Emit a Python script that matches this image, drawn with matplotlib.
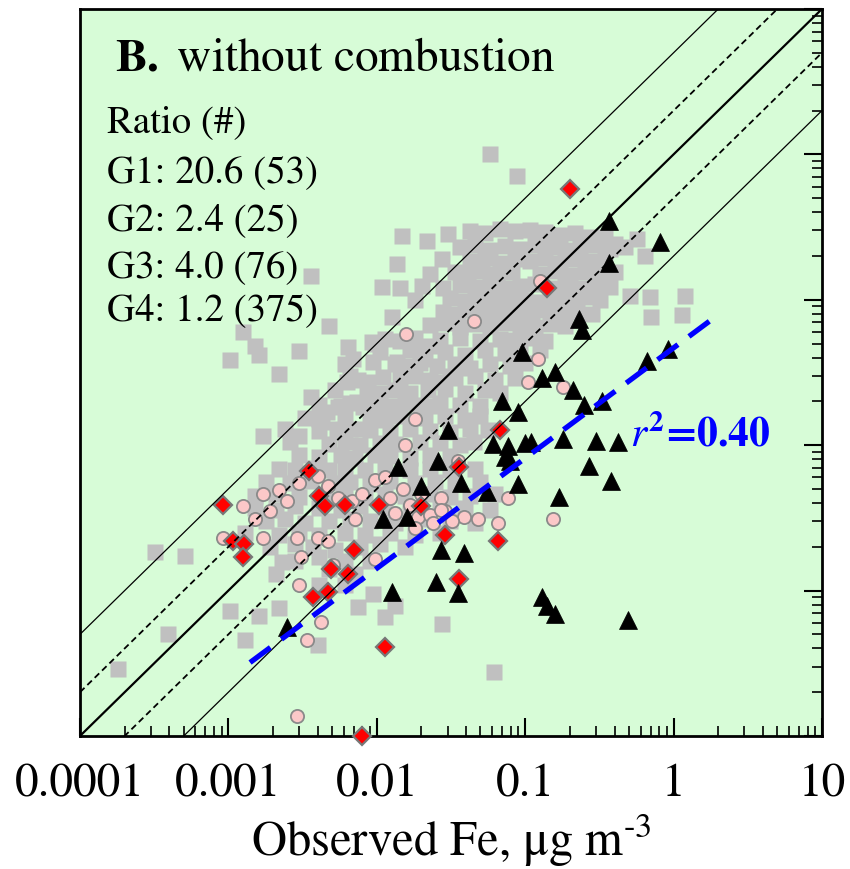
import matplotlib
matplotlib.use("Agg")
from matplotlib import pyplot as plt
from matplotlib.ticker import LogLocator, NullFormatter, FuncFormatter

plt.rcParams['font.family'] = 'STIXGeneral'
plt.rcParams['mathtext.fontset'] = 'stix'

# G1 - black triangles (observed, modelled)
g1_obs = [0.37, 0.81, 0.37, 0.23, 0.24, 0.66, 0.92, 0.095, 0.16, 0.13,
          0.21, 0.25, 0.33, 0.070, 0.089, 0.030, 0.026, 0.061, 0.077, 0.10,
          0.079, 0.18, 0.30, 0.42, 0.27, 0.38, 0.089, 0.037, 0.055, 0.17,
          0.027, 0.039, 0.025, 0.035, 0.13, 0.14, 0.16, 0.49, 0.014, 0.020,
          0.011, 0.016, 0.0025, 0.0126, 0.073, 0.11]
g1_mod = [0.35, 0.25, 0.18, 0.074, 0.062, 0.038, 0.046, 0.044, 0.032, 0.029,
          0.024, 0.019, 0.020, 0.020, 0.017, 0.0127, 0.0078, 0.0102, 0.0099, 0.0104,
          0.0078, 0.011, 0.0107, 0.0105, 0.0072, 0.0057, 0.0054, 0.0055, 0.0048, 0.0044,
          0.0019, 0.0018, 0.00115, 0.00096, 0.00090, 0.00078, 0.00069, 0.00063, 0.0071, 0.0052,
          0.0031, 0.0032, 0.00056, 0.00098, 0.0083, 0.0105]

# G2 - red diamonds
g2_obs = [0.20, 0.14, 0.00092, 0.0035, 0.0041, 0.0045, 0.0061, 0.0104, 0.00107, 0.00127,
          0.00125, 0.0070, 0.0049, 0.0064, 0.0037, 0.0047, 0.0113, 0.0079, 0.020, 0.036,
          0.068, 0.029, 0.066, 0.036]
g2_mod = [0.58, 0.12, 0.0039, 0.0066, 0.0045, 0.0038, 0.0039, 0.0039, 0.0022, 0.0021,
          0.0017, 0.0019, 0.0014, 0.0013, 0.0009, 0.00098, 0.00041, 0.0001, 0.0038, 0.0071,
          0.0127, 0.0024, 0.0022, 0.0012]

# G3 - pink circles
g3_obs = [0.126, 0.045, 0.0157, 0.122, 0.105, 0.18, 0.018, 0.0155, 0.035, 0.0097,
          0.015, 0.020, 0.027, 0.077, 0.0133, 0.019, 0.023, 0.029, 0.039, 0.048,
          0.066, 0.154, 0.018, 0.032, 0.0071, 0.0068, 0.0097, 0.0040, 0.0047, 0.0030,
          0.0025, 0.0022, 0.0017, 0.00125, 0.0015, 0.00092, 0.0017, 0.0029, 0.0040, 0.0047,
          0.0031, 0.0051, 0.0030, 0.0042, 0.0034, 0.0029, 0.027, 0.0167, 0.024, 0.0123,
          0.0079, 0.0055, 0.0019, 0.0114]
g3_mod = [0.135, 0.071, 0.058, 0.039, 0.027, 0.025, 0.0151, 0.0100, 0.0078, 0.0058,
          0.0050, 0.0046, 0.0043, 0.0043, 0.0034, 0.0032, 0.0033, 0.0035, 0.0032, 0.0031,
          0.0029, 0.0031, 0.0027, 0.0030, 0.0031, 0.0041, 0.00165, 0.0061, 0.0052, 0.0055,
          0.0041, 0.0049, 0.0046, 0.0038, 0.0031, 0.0023, 0.0023, 0.0023, 0.0023, 0.0022,
          0.0017, 0.0015, 0.0011, 0.00061, 0.00046, 0.000137, 0.0036, 0.0039, 0.0029, 0.0043,
          0.0046, 0.0043, 0.0035, 0.0060]

# G4 - grey squares
g4_obs = [
    # scattered points
    0.058, 0.088, 0.0036, 0.0048, 0.00125, 0.0015, 0.0016, 0.0030, 0.00103, 0.0022,
    0.0036, 0.0041, 0.0017, 0.0030, 0.00032, 0.00051, 0.00018, 0.00039, 0.00103, 0.0016,
    0.0022, 0.0013, 0.0040, 0.062, 0.0275, 0.0094, 0.0075, 0.0113, 0.0133, 0.0023,
    0.69, 1.19, 0.71, 1.14, 0.51, 0.57, 0.64, 0.47, 0.0137, 0.0108,
    0.0143, 0.0126,
    0.0064, 0.0097, 0.0066, 0.0075, 0.0086, 0.0133, 0.0055, 0.0081, 0.0054, 0.0079,
    0.0093, 0.0069, 0.0094, 0.0137, 0.0205, 0.0228, 0.0063, 0.0087, 0.0110, 0.0057,
    0.0074, 0.0228, 0.0267, 0.0311, 0.0024, 0.0043, 0.0046,
    # upper cluster
    0.0148, 0.0218, 0.0302, 0.0425, 0.0536, 0.0676, 0.0854, 0.108, 0.136, 0.172, 0.217, 0.273, 0.345, 0.403,
    0.0364, 0.0459, 0.0579, 0.0731, 0.0923, 0.116, 0.147, 0.185, 0.234, 0.295, 0.373,
    0.0275, 0.0425, 0.0536, 0.0676, 0.0854, 0.108, 0.136, 0.172, 0.217, 0.273, 0.345,
    0.0228, 0.0337, 0.0412, 0.0512, 0.0646, 0.0815, 0.126, 0.159, 0.200, 0.253, 0.319, 0.403,
    0.0202, 0.0279, 0.0364, 0.0459, 0.0579, 0.0731, 0.0923, 0.116, 0.147, 0.185, 0.234, 0.295, 0.373,
    0.0181, 0.0311, 0.0393, 0.0496, 0.0625, 0.079, 0.0997, 0.126, 0.159, 0.200, 0.253, 0.319,
    0.0279, 0.0352, 0.0438, 0.0553, 0.0698, 0.0881, 0.111, 0.140, 0.177, 0.223, 0.282,
    0.0228, 0.0288, 0.0364, 0.0459, 0.0579, 0.0731, 0.0923, 0.116, 0.147, 0.185,
    # diagonal band
    0.01135, 0.0143, 0.0181, 0.0267, 0.0364, 0.0496, 0.0676, 0.0854, 0.108, 0.136,
    0.0105, 0.0167, 0.0211, 0.0288, 0.0393, 0.0536, 0.0731, 0.0923, 0.126,
    0.0061, 0.0167, 0.0195, 0.0255, 0.0337, 0.0425, 0.0579, 0.079, 0.0997,
    0.0143, 0.0181, 0.0228, 0.0337, 0.0459, 0.0625, 0.0854,
    0.0052, 0.0105, 0.0133, 0.0167, 0.0221, 0.0288, 0.0393, 0.0536, 0.0676,
    0.0041, 0.0066, 0.0097, 0.0123, 0.0155, 0.0195, 0.0267, 0.0364, 0.0496,
    0.0033, 0.0061, 0.009, 0.01135, 0.0143, 0.0211, 0.0288, 0.0393,
    0.0041, 0.0066, 0.009, 0.0123, 0.0167, 0.0228, 0.0311, 0.0425,
    0.0026, 0.0048, 0.0061, 0.0077, 0.0105, 0.0133, 0.0195, 0.0267, 0.0364,
    0.0030, 0.0041, 0.0057, 0.0071, 0.0097, 0.0123, 0.0167, 0.0228, 0.0311,
    0.0022, 0.0028, 0.0038, 0.0048, 0.0061, 0.0083, 0.01135, 0.0167, 0.0228, 0.0311, 0.0459,
    0.0018, 0.0026, 0.0036, 0.0052, 0.0066, 0.009, 0.0123, 0.0181, 0.0247, 0.0337, 0.0496,
    0.0015, 0.0021, 0.0030, 0.0045, 0.0061, 0.0083, 0.01135, 0.0155, 0.0228, 0.0311, 0.0425, 0.0625,
    0.0015, 0.0021, 0.0028, 0.0041, 0.0057, 0.0077, 0.01135, 0.0167, 0.0267, 0.0393, 0.0579,
    0.0018, 0.0024, 0.0033, 0.0048, 0.0066, 0.009, 0.0133, 0.0195, 0.0311, 0.0459,
    0.0013, 0.0022, 0.0030, 0.0041, 0.0061, 0.0083, 0.0123, 0.0181, 0.0267,
    0.0019, 0.0028, 0.0037, 0.0052, 0.0077, 0.0105, 0.0155,
    0.0028, 0.0041, 0.0061, 0.009,
    0.0021, 0.0048, 0.0071,
    0.0041, 0.0061,
    0.050, 0.056, 0.045,
]
g4_mod = [
    1.01, 0.71, 0.146, 0.066, 0.060, 0.048, 0.042, 0.0445, 0.0385, 0.031,
    0.0215, 0.0151, 0.0116, 0.0116, 0.00184, 0.00173, 0.00029, 0.00050, 0.00072, 0.00067,
    0.00076, 0.00046, 0.00042, 0.000275, 0.00059, 0.00095, 0.00077, 0.00066, 0.00078, 0.00157,
    0.104, 0.106, 0.076, 0.079, 0.106, 0.262, 0.200, 0.231, 0.176, 0.122,
    0.121, 0.076,
    0.0473, 0.0497, 0.0299, 0.0281, 0.0225, 0.0361, 0.0183, 0.0183, 0.0129, 0.0129,
    0.0513, 0.0392, 0.0373, 0.0373, 0.0392, 0.0481, 0.0272, 0.0272, 0.0295, 0.0186,
    0.0198, 0.0186, 0.0272, 0.0299, 0.0129, 0.0145, 0.0169,
    0.275, 0.254, 0.284, 0.297, 0.288, 0.307, 0.297, 0.302, 0.293, 0.279, 0.288, 0.270, 0.270, 0.242,
    0.23, 0.24, 0.22, 0.235, 0.225, 0.24, 0.23, 0.22, 0.235, 0.24, 0.225,
    0.19, 0.185, 0.195, 0.18, 0.19, 0.185, 0.195, 0.18, 0.19, 0.185, 0.19,
    0.15, 0.155, 0.148, 0.158, 0.15, 0.155, 0.15, 0.157, 0.148, 0.155, 0.15, 0.155,
    0.125, 0.12, 0.127, 0.122, 0.126, 0.12, 0.125, 0.128, 0.121, 0.125, 0.12, 0.126, 0.122,
    0.10, 0.103, 0.098, 0.102, 0.099, 0.104, 0.10, 0.097, 0.102, 0.10, 0.104, 0.099,
    0.083, 0.08, 0.085, 0.081, 0.084, 0.082, 0.08, 0.085, 0.082, 0.083, 0.08,
    0.067, 0.069, 0.065, 0.068, 0.066, 0.069, 0.067, 0.065, 0.068, 0.066,
    0.054, 0.052, 0.055, 0.053, 0.055, 0.052, 0.054, 0.053, 0.055, 0.052,
    0.044, 0.045, 0.043, 0.044, 0.042, 0.045, 0.043, 0.044, 0.045,
    0.036, 0.035, 0.037, 0.035, 0.036, 0.034, 0.036, 0.035, 0.037,
    0.029, 0.030, 0.028, 0.029, 0.030, 0.028, 0.029,
    0.024, 0.023, 0.024, 0.023, 0.024, 0.0245, 0.023, 0.024, 0.023,
    0.019, 0.0195, 0.019, 0.0185, 0.0195, 0.019, 0.0195, 0.019, 0.0185,
    0.0155, 0.016, 0.0155, 0.015, 0.016, 0.0155, 0.016, 0.015,
    0.0125, 0.013, 0.0127, 0.0123, 0.013, 0.0126, 0.0124, 0.013,
    0.0105, 0.0102, 0.0106, 0.0101, 0.0104, 0.0102, 0.0106, 0.0103, 0.0101,
    0.0085, 0.0083, 0.0086, 0.0082, 0.0085, 0.0084, 0.0082, 0.0086, 0.0084,
    0.0069, 0.0067, 0.0070, 0.0068, 0.0069, 0.0067, 0.0070, 0.0068, 0.0069, 0.0067, 0.0069,
    0.0056, 0.0055, 0.0057, 0.0055, 0.0056, 0.0054, 0.0057, 0.0055, 0.0056, 0.0054, 0.0056,
    0.0045, 0.0046, 0.0044, 0.0046, 0.0045, 0.0044, 0.0046, 0.0045, 0.0046, 0.0044, 0.0045, 0.0046,
    0.0037, 0.0036, 0.0038, 0.0037, 0.0036, 0.0038, 0.0037, 0.0036, 0.0038, 0.0037, 0.0036,
    0.0030, 0.0031, 0.0029, 0.0030, 0.0031, 0.0030, 0.0029, 0.0031, 0.0030, 0.0029,
    0.0025, 0.0024, 0.0025, 0.0024, 0.0025, 0.0024, 0.0025, 0.0024, 0.0025,
    0.0020, 0.0021, 0.0020, 0.0019, 0.0020, 0.0021, 0.0020,
    0.0016, 0.0017, 0.0016, 0.0016,
    0.0013, 0.0014, 0.0013,
    0.0011, 0.0011,
    0.0158, 0.0128, 0.0105,
]

# regression line end points
fit_obs = [0.0014, 2.0]
fit_mod = [0.00032, 0.079]

ratio_labels = ['Ratio (#)', 'G1: 20.6 (53)', 'G2: 2.4 (25)', 'G3: 4.0 (76)', 'G4: 1.2 (375)']
x_ticks = [0.0001, 0.001, 0.01, 0.1, 1, 10]

fig = plt.figure(figsize=(8.5, 8.7), dpi=100)
ax = fig.add_axes([0.0941, 0.1529, 0.8729, 0.8356])
ax.set_xscale('log')
ax.set_yscale('log')
ax.set_facecolor('#d7fcd7')

ax.plot(g4_obs, g4_mod, ls='none', marker='s', ms=11, mfc='#c0c0c0', mec='none', zorder=2)
ax.plot(g3_obs, g3_mod, ls='none', marker='o', ms=9.5, mfc='#fbc8c8', mec='#8a8a8a', mew=1.3, zorder=3, clip_on=False)
ax.plot(g2_obs, g2_mod, ls='none', marker='D', ms=9, mfc='#ff0000', mec='#777777', mew=1.6, zorder=4, clip_on=False)
ax.plot(g1_obs, g1_mod, ls='none', marker='^', ms=13, mfc='black', mec='black', mew=0.5, zorder=5)

# 1:1, 1:2 and 1:5 lines
lim = [1e-4, 10]
ax.plot(lim, lim, color='black', lw=1.6, zorder=6)
for k in [2, 0.5]:
    ax.plot(lim, [v * k for v in lim], color='black', lw=1.3, dashes=(3.5, 2.2), zorder=6)
for k in [5, 0.2]:
    ax.plot(lim, [v * k for v in lim], color='black', lw=0.9, zorder=6)

ax.plot(fit_obs, fit_mod, color='#0000ff', lw=3.8, dashes=(4.8, 2.6), zorder=7)

ax.set_xlim(1e-4, 10)
ax.set_ylim(1e-4, 10)

ax.xaxis.set_major_locator(LogLocator(base=10, numticks=20))
ax.xaxis.set_minor_locator(LogLocator(base=10, subs=range(2, 10), numticks=100))
ax.yaxis.set_major_locator(LogLocator(base=10, numticks=20))
ax.yaxis.set_minor_locator(LogLocator(base=10, subs=range(2, 10), numticks=100))
ax.set_xticks(x_ticks)
ax.xaxis.set_major_formatter(FuncFormatter(lambda v, p: f'{v:g}'))
ax.xaxis.set_minor_formatter(NullFormatter())
ax.yaxis.set_major_formatter(NullFormatter())
ax.yaxis.set_minor_formatter(NullFormatter())

ax.tick_params(axis='x', which='both', direction='in', top=False, bottom=True, labelsize=34, pad=19)
ax.tick_params(axis='y', which='both', direction='in', left=False, right=True,
               labelleft=False, labelright=False)
ax.tick_params(which='major', length=13, width=1.5)
ax.tick_params(which='minor', length=7, width=1.2)
for sp in ax.spines.values():
    sp.set_linewidth(2)

ax.set_xlabel('Observed Fe, μg m$^{\u2010 3}$', fontsize=35, labelpad=5)

ax.text(0.047, 0.917, r'$\mathbf{B.}$ without combustion', transform=ax.transAxes,
        fontsize=34, va='baseline')
for lbl, yb in zip(ratio_labels, [0.832, 0.763, 0.697, 0.633, 0.574]):
    ax.text(0.036, yb, lbl, transform=ax.transAxes, fontsize=28, va='baseline')
ax.text(0.741, 0.399, r'$\mathit{r}^{\mathbf{2}}$=0.40', transform=ax.transAxes,
        color='#0000ff', fontweight='bold', fontsize=30, va='baseline')

fig.savefig('out.png', dpi=100)
